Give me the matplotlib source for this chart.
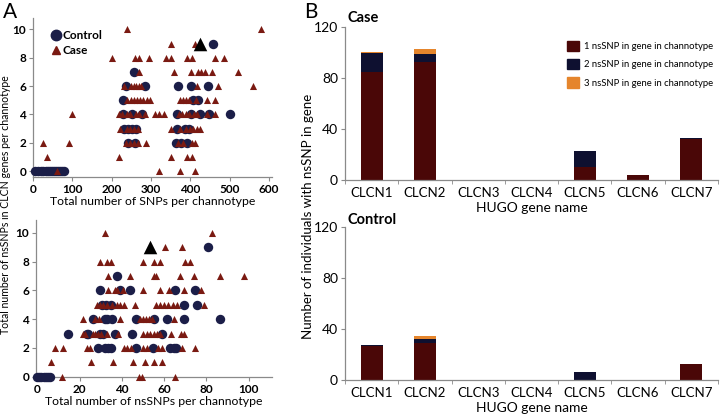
import matplotlib
matplotlib.use('Agg')
import matplotlib.pyplot as plt
from matplotlib.patches import Patch
from matplotlib.lines import Line2D

plt.rcParams['font.family'] = ['Lato', 'DejaVu Sans']

# ---- panel A, top: total SNPs vs nsSNPs in CLCN genes
ctrl_top_x = [6, 12, 20, 26, 33, 38, 43, 48, 53, 58, 63, 68, 73, 78,
              242, 259, 363, 376, 391,
              232, 242, 251, 261, 367, 386, 396,
              230, 253, 278, 367, 403, 424, 447, 500,
              230, 408, 420,
              236, 285, 370, 403, 446,
              256,
              458]
ctrl_top_y = [0, 0, 0, 0, 0, 0, 0, 0, 0, 0, 0, 0, 0, 0,
              2, 2, 2, 2, 2,
              3, 3, 3, 3, 3, 3, 3,
              4, 4, 4, 4, 4, 4, 4, 4,
              5, 5, 5,
              6, 6, 6, 6, 6,
              7,
              9]
case_top_x = [60, 320, 374, 411,
              35, 218, 352, 393, 405,
              26, 92, 236, 248, 256, 266, 287, 370, 382, 405, 411,
              222, 238, 247, 257, 268, 352, 374, 388, 400, 407, 416, 426,
              100, 218, 226, 238, 246, 262, 270, 286, 310, 321, 332, 372, 380, 388, 396, 410, 418, 443, 463,
              240, 249, 257, 265, 273, 281, 289, 297, 374, 382, 390, 398, 414, 443, 463,
              232, 249, 256, 263, 270, 276, 416, 471, 560,
              270, 359, 403, 420, 428, 437, 456, 521,
              202, 260, 270, 295, 339, 352, 393, 405, 463, 487,
              352, 411,
              240, 579]
case_top_y = [0, 0, 0, 0,
              1, 1, 1, 1, 1,
              2, 2, 2, 2, 2, 2, 2, 2, 2, 2, 2,
              3, 3, 3, 3, 3, 3, 3, 3, 3, 3, 3, 3,
              4, 4, 4, 4, 4, 4, 4, 4, 4, 4, 4, 4, 4, 4, 4, 4, 4, 4, 4,
              5, 5, 5, 5, 5, 5, 5, 5, 5, 5, 5, 5, 5, 5, 5,
              6, 6, 6, 6, 6, 6, 6, 6, 6,
              7, 7, 7, 7, 7, 7, 7, 7,
              8, 8, 8, 8, 8, 8, 8, 8, 8, 8,
              9, 9,
              10, 10]
highlight_top = (424, 9)

# ---- panel A, bottom: total nsSNPs vs nsSNPs in CLCN genes
ctrl_bot_x = [0, 1, 2, 3, 4, 5, 6,
              28.9, 32.1, 33.6, 34.8, 46.8, 54.5, 62.9, 64.5, 65.7,
              14.7, 23.4, 24.2, 29.7, 31.3, 36.8, 44.6, 59.2,
              26.2, 31.8, 33.2, 35.2, 46.8, 55, 61.3, 69.2, 86.2,
              30.5, 32.7, 34.8, 69.5, 75.5,
              29.7, 38.9, 43.9, 65.2, 74.7,
              37.9,
              80.5]
ctrl_bot_y = [0, 0, 0, 0, 0, 0, 0,
              2, 2, 2, 2, 2, 2, 2, 2, 2,
              3, 3, 3, 3, 3, 3, 3, 3,
              4, 4, 4, 4, 4, 4, 4, 4, 4,
              5, 5, 5, 5, 5,
              6, 6, 6, 6, 6,
              7,
              9]
case_bot_x = [11.5, 47.9, 49.4, 65.2,
              6.5, 25.4, 36, 45.2, 51, 55, 59.2,
              8.4, 12.3, 23.4, 25, 41, 42.5, 44.2, 50.2, 51.8, 57.3, 58.9, 68.4, 74.7,
              21.5, 22.6, 26.5, 27.5, 28.5, 30, 33, 38, 50.2, 52, 53.5, 55, 56.5, 58, 63.3, 68, 69.2,
              21.8, 27.5, 29, 39.2, 48.6, 50, 51.5, 53, 54.2, 64.5,
              28.4, 29.5, 31, 33, 35.5, 37.5, 39.2, 40.8, 46, 56.2, 58, 60, 62, 64, 66, 78.7,
              33.6, 36.8, 37.8, 40.5, 49.9, 58.1, 62.1, 69.5, 77.6,
              33.6, 43.9, 55, 56.2, 67.3, 74.2, 86.6, 97.6,
              29.7, 32.9, 34.9, 50.2, 55, 58.1, 70, 72.3,
              60.2, 68.4,
              31.8, 82.6]
case_bot_y = [0, 0, 0, 0,
              1, 1, 1, 1, 1, 1, 1,
              2, 2, 2, 2, 2, 2, 2, 2, 2, 2, 2, 2, 2,
              3, 3, 3, 3, 3, 3, 3, 3, 3, 3, 3, 3, 3, 3, 3, 3, 3,
              4, 4, 4, 4, 4, 4, 4, 4, 4, 4,
              5, 5, 5, 5, 5, 5, 5, 5, 5, 5, 5, 5, 5, 5, 5, 5,
              6, 6, 6, 6, 6, 6, 6, 6, 6,
              7, 7, 7, 7, 7, 7, 7, 7,
              8, 8, 8, 8, 8, 8, 8, 8,
              9, 9,
              10, 10]
highlight_bot = (53.4, 9)

# ---- panel B: individuals with nsSNP per gene
genes = ['CLCN1', 'CLCN2', 'CLCN3', 'CLCN4', 'CLCN5', 'CLCN6', 'CLCN7']
case_1 = [85, 93, 0, 0, 10, 4, 32]
case_2 = [14.5, 6, 0, 0, 12.5, 0, 1.3]
case_3 = [0.8, 4, 0, 0, 0, 0, 0]
ctrl_1 = [27, 29, 0, 0, 0, 0, 12.6]
ctrl_2 = [0.8, 3, 0, 0, 6.5, 0, 0]
ctrl_3 = [0, 2.5, 0, 0, 0, 0, 0]
legend_labels = ['1 nsSNP in gene in channotype',
                 '2 nsSNP in gene in channotype',
                 '3 nsSNP in gene in channotype']

red = '#4a0707'
navy = '#0e1030'
orange = '#e5852c'
tri_col = '#7a1a12'
circ_col = '#1b1e48'
spine_col = '#8a8a8a'

W, H = 720, 418
fig = plt.figure(figsize=(7.2, 4.18), dpi=100)


def px_axes(left, top, right, bottom):
    return fig.add_axes([left / W, 1 - bottom / H, (right - left) / W, (bottom - top) / H])


def style_scatter(ax):
    for s in ['top', 'right']:
        ax.spines[s].set_visible(False)
    for s in ['left', 'bottom']:
        ax.spines[s].set_color(spine_col)
        ax.spines[s].set_linewidth(0.9)
    ax.tick_params(direction='out', length=3, width=0.8, color=spine_col, pad=2)
    for lab in ax.get_xticklabels() + ax.get_yticklabels():
        lab.set_fontweight('bold')
        lab.set_fontsize(8.5)


# top scatter
ax1 = px_axes(33, 18, 272, 177)
ax1.scatter(ctrl_top_x, ctrl_top_y, s=46, marker='o', color=circ_col, zorder=3, clip_on=False, linewidths=0)
ax1.scatter(case_top_x, case_top_y, s=26, marker='^', color=tri_col, zorder=4, clip_on=False, linewidths=0)
ax1.scatter([highlight_top[0]], [highlight_top[1]], s=95, marker='^', color='black', zorder=5, linewidths=0)
ax1.set_xlim(0, 608)
ax1.set_ylim(-0.42, 10.8)
ax1.set_xticks([0, 100, 200, 300, 400, 500, 600])
ax1.set_yticks([0, 2, 4, 6, 8, 10])
ax1.set_xlabel('Total number of SNPs per channotype', fontsize=8.8, labelpad=1)
style_scatter(ax1)
handles = [Line2D([], [], marker='o', ls='', color=circ_col, markersize=7.5),
           Line2D([], [], marker='^', ls='', color=tri_col, markersize=6)]
ax1.legend(handles, ['Control', 'Case'], loc='upper left', bbox_to_anchor=(0.05, 0.96),
           frameon=False, handlelength=0.8, handletextpad=0.2, labelspacing=0.35,
           borderpad=0, prop={'size': 8.5, 'weight': 'bold'})

# bottom scatter
ax2 = px_axes(36, 220, 272, 376.7)
ax2.scatter(ctrl_bot_x, ctrl_bot_y, s=46, marker='o', color=circ_col, zorder=3, clip_on=False, linewidths=0)
ax2.scatter(case_bot_x, case_bot_y, s=26, marker='^', color=tri_col, zorder=4, clip_on=False, linewidths=0)
ax2.scatter([highlight_bot[0]], [highlight_bot[1]], s=95, marker='^', color='black', zorder=5, linewidths=0)
ax2.set_xlim(-0.6, 111)
ax2.set_ylim(0, 10.9)
ax2.set_xticks([0, 20, 40, 60, 80, 100])
ax2.set_yticks([0, 2, 4, 6, 8, 10])
ax2.set_xlabel('Total number of nsSNPs per channotype', fontsize=8.8, labelpad=1)
style_scatter(ax2)

fig.text(6 / W, 1 - 205 / H, 'Total number of nsSNPs in CLCN genes per channotype',
         rotation=90, ha='center', va='center', fontsize=7.6)


def draw_bars(ax, v1, v2, v3):
    x = list(range(len(genes)))
    b2 = [a + b for a, b in zip(v1, v2)]
    ax.bar(x, v1, width=0.41, color=red, zorder=2)
    ax.bar(x, v2, width=0.41, bottom=v1, color=navy, zorder=2)
    ax.bar(x, v3, width=0.41, bottom=b2, color=orange, zorder=2)
    ax.set_xlim(-0.5, 6.45)
    ax.set_ylim(0, 120)
    ax.set_yticks([0, 40, 80, 120])
    ax.set_xticks(x)
    ax.set_xticklabels(genes, fontsize=9.5)
    ax.set_xticks([i - 0.5 for i in range(len(genes) + 1)], minor=True)
    ax.tick_params(axis='x', which='major', length=0, pad=5)
    ax.tick_params(axis='x', which='minor', length=3, color=spine_col, direction='out')
    ax.tick_params(axis='y', length=3, color=spine_col, direction='out', labelsize=10, pad=2)
    for s in ['top', 'right']:
        ax.spines[s].set_visible(False)
    for s in ['left', 'bottom']:
        ax.spines[s].set_color(spine_col)
        ax.spines[s].set_linewidth(0.9)
    ax.set_xlabel('HUGO gene name', fontsize=10, labelpad=2)


ax3 = px_axes(345, 27.3, 718, 180)
draw_bars(ax3, case_1, case_2, case_3)
ax4 = px_axes(345, 227.3, 718, 380)
draw_bars(ax4, ctrl_1, ctrl_2, ctrl_3)

leg_handles = [Patch(color=red), Patch(color=navy), Patch(color=orange)]
ax3.legend(leg_handles, legend_labels, loc='upper left', bbox_to_anchor=(562 / W, 1 - 36 / H),
           bbox_transform=fig.transFigure, frameon=False, fontsize=6.8,
           handlelength=1.3, handleheight=1.3, handletextpad=0.5, labelspacing=0.85, borderpad=0)

fig.text(347 / W, 1 - 18 / H, 'Case', fontsize=10.5, fontweight='bold', va='center')
fig.text(347 / W, 1 - 220 / H, 'Control', fontsize=10.5, fontweight='bold', va='center')
fig.text(308 / W, 1 - 216 / H, 'Number of individuals with nsSNP in gene',
         rotation=90, ha='center', va='center', fontsize=9.5)

fig.text(3 / W, 1 - 12 / H, 'A', fontsize=15, va='center')
fig.text(304 / W, 1 - 12 / H, 'B', fontsize=15, va='center')

fig.savefig('out.png', dpi=100)
